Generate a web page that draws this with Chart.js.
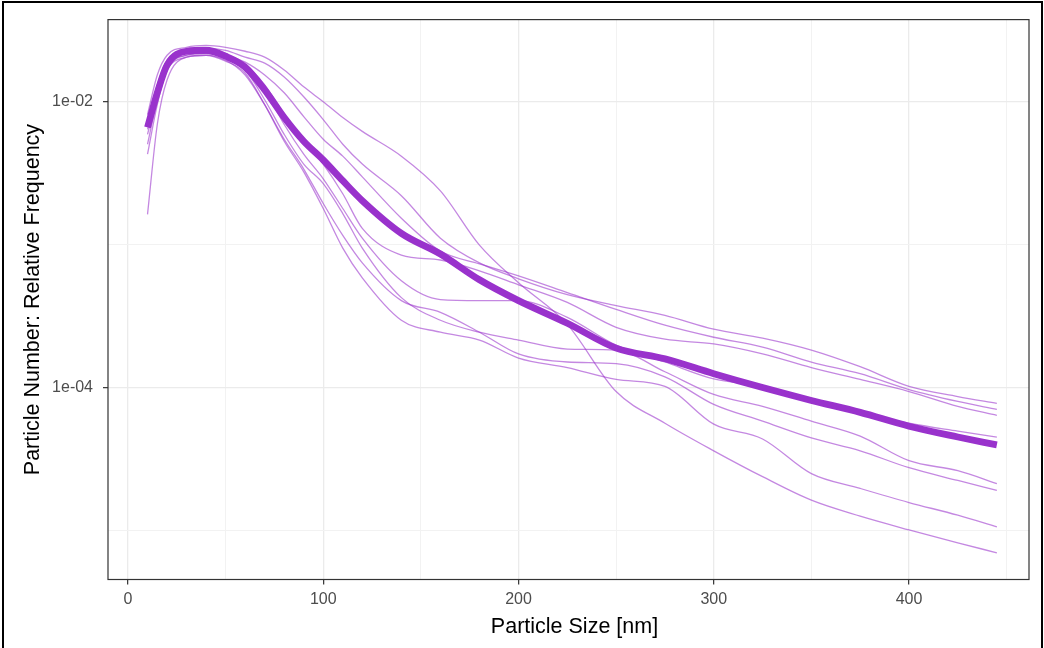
<!DOCTYPE html>
<html>
<head>
<meta charset="utf-8">
<script src="https://cdn.jsdelivr.net/npm/chart.js@4"></script>
<style>
  html, body { margin: 0; padding: 0; background: #fff; }
  #wrap { position: relative; width: 1044px; height: 648px; overflow: hidden; }
  #frame { position: absolute; left: 2px; top: 1px; width: 1037px; height: 650px; border: 2px solid #000; pointer-events: none; }
  canvas { position: absolute; left: 0; top: 0; }
</style>
</head>
<body>
<div id="wrap">
  <canvas id="chart" width="1044" height="648"></canvas>
  <div id="frame"></div>
</div>
<script>
// Particle size bins (nm)
const sizes = [10, 15, 20, 30, 40, 50, 60, 70, 80, 90, 100, 110, 120, 140, 160, 180, 200, 225, 250, 275, 300, 325, 350, 375, 400, 425, 445];

// Mean relative frequency across all runs
const meanFreq = [6.61e-3, 1.154e-2, 1.803e-2, 2.254e-2, 2.290e-2, 2.081e-2, 1.747e-2, 1.211e-2, 7.75e-3, 5.29e-3, 3.91e-3, 2.80e-3, 2.03e-3, 1.20e-3, 8.60e-4, 5.68e-4, 4.06e-4, 2.82e-4, 1.89e-4, 1.59e-4, 1.25e-4, 1.00e-4, 8.13e-5, 6.71e-5, 5.37e-5, 4.51e-5, 3.97e-5];

// Individual runs
const run01 = [8.13e-3, 1.538e-2, 2.114e-2, 2.403e-2, 2.480e-2, 2.403e-2, 2.254e-2, 2.048e-2, 1.665e-2, 1.270e-2, 1.000e-2, 7.75e-3, 6.20e-3, 4.16e-3, 2.38e-3, 9.92e-4, 5.41e-4, 2.77e-4, 9.38e-5, 5.63e-5, 3.61e-5, 2.38e-5, 1.63e-5, 1.26e-5, 1.01e-5, 8.19e-6, 6.99e-6];
const run02 = [7.16e-3, 1.311e-2, 1.953e-2, 2.290e-2, 2.364e-2, 2.290e-2, 2.048e-2, 1.862e-2, 1.489e-2, 1.083e-2, 7.50e-3, 5.04e-3, 3.66e-3, 2.20e-3, 1.11e-3, 7.45e-4, 5.77e-4, 4.47e-4, 3.75e-4, 3.20e-4, 2.56e-4, 2.22e-4, 1.83e-4, 1.40e-4, 1.02e-4, 8.66e-5, 7.75e-5];
const run03 = [6.40e-3, 1.118e-2, 1.747e-2, 2.183e-2, 2.254e-2, 2.114e-2, 1.891e-2, 1.538e-2, 1.154e-2, 7.87e-3, 5.46e-3, 4.16e-3, 2.98e-3, 1.53e-3, 9.02e-4, 7.33e-4, 6.05e-4, 4.62e-4, 3.52e-4, 2.73e-4, 2.25e-4, 1.92e-4, 1.51e-4, 1.25e-4, 9.69e-5, 8.00e-5, 7.04e-5];
const run04 = [6.93e-3, 1.211e-2, 1.862e-2, 2.218e-2, 2.290e-2, 2.114e-2, 1.803e-2, 1.311e-2, 8.13e-3, 5.46e-3, 3.66e-3, 2.27e-3, 1.30e-3, 8.46e-4, 7.81e-4, 6.56e-4, 5.24e-4, 3.94e-4, 2.64e-4, 2.18e-4, 2.02e-4, 1.72e-4, 1.38e-4, 1.14e-4, 9.38e-5, 7.39e-5, 6.40e-5];
const run05 = [4.30e-3, 9.53e-3, 1.665e-2, 2.114e-2, 2.183e-2, 2.048e-2, 1.747e-2, 1.211e-2, 6.93e-3, 4.30e-3, 2.89e-3, 1.79e-3, 1.11e-3, 5.59e-4, 4.13e-4, 4.06e-4, 4.06e-4, 3.10e-4, 1.98e-4, 1.51e-4, 1.15e-4, 1.02e-4, 8.00e-5, 6.71e-5, 5.63e-5, 4.96e-5, 4.51e-5];
const run06 = [5.91e-3, 1.083e-2, 1.747e-2, 2.114e-2, 2.183e-2, 2.016e-2, 1.665e-2, 1.032e-2, 5.91e-3, 3.66e-3, 2.67e-3, 1.65e-3, 9.46e-4, 4.26e-4, 2.96e-4, 2.44e-4, 2.15e-4, 1.86e-4, 1.83e-4, 1.29e-4, 8.95e-5, 7.39e-5, 5.82e-5, 4.58e-5, 3.08e-5, 2.62e-5, 2.13e-5];
const run07 = [1.63e-3, 6.93e-3, 1.420e-2, 2.048e-2, 2.114e-2, 1.953e-2, 1.538e-2, 9.53e-3, 5.46e-3, 3.38e-3, 1.94e-3, 1.16e-3, 7.45e-4, 4.06e-4, 3.36e-4, 2.44e-4, 1.72e-4, 1.51e-4, 1.47e-4, 1.19e-4, 7.63e-5, 5.82e-5, 4.44e-5, 3.61e-5, 2.75e-5, 2.24e-5, 1.91e-5];
const run08 = [5.04e-3, 1.032e-2, 1.665e-2, 2.048e-2, 2.114e-2, 1.922e-2, 1.588e-2, 9.53e-3, 5.29e-3, 3.23e-3, 1.79e-3, 9.46e-4, 5.86e-4, 2.96e-4, 2.44e-4, 2.15e-4, 1.61e-4, 1.38e-4, 1.14e-4, 1.02e-4, 5.55e-5, 4.37e-5, 2.50e-5, 1.97e-5, 1.57e-5, 1.28e-5, 1.06e-5];

const runs = [run01, run02, run03, run04, run05, run06, run07, run08];

// Axis ticks
const xMajorTicks = [0, 100, 200, 300, 400];
const xMinorTicks = [50, 150, 250, 350, 450];
const yMajorTicks = [1e-4, 1e-2];
const yMajorLabels = ['1e-04', '1e-02'];
const yMinorTicks = [1e-5, 1e-3];

// Axis titles
const xTitle = 'Particle Size [nm]';
const yTitle = 'Particle Number: Relative Frequency';

// Layout of the plotting panel (canvas pixels)
const PANEL = { left: 108, right: 1029, top: 13.5, bottom: 579.5 };
const CANVAS_W = 1044, CANVAS_H = 648;

const FONT = "'Liberation Sans', Arial, sans-serif";
const GRID = '#EBEBEB';
const GRID_MINOR = '#F2F2F2';
const AXIS_DARK = '#333333';

const toPoints = arr => arr.map((v, i) => ({ x: sizes[i], y: v }));

const datasets = [
  {
    label: 'mean',
    data: toPoints(meanFreq),
    borderColor: '#9932CC',
    borderWidth: 6.8,
    borderCapStyle: 'butt',
    borderJoinStyle: 'round',
    pointRadius: 0,
    cubicInterpolationMode: 'monotone',
    order: 0
  },
  ...runs.map((r, i) => ({
    label: 'run ' + (i + 1),
    data: toPoints(r),
    borderColor: 'rgba(153, 50, 204, 0.58)',
    borderWidth: 1.3,
    pointRadius: 0,
    cubicInterpolationMode: 'monotone',
    order: 1
  }))
];

// Panel border drawn over the data, plus the x-axis title
const panelDecor = {
  id: 'panelDecor',
  afterDatasetsDraw(chart) {
    const { ctx, chartArea: a } = chart;
    ctx.save();
    ctx.strokeStyle = AXIS_DARK;
    ctx.lineWidth = 1.2;
    ctx.strokeRect(a.left, a.top, a.right - a.left, a.bottom - a.top);
    ctx.restore();
  },
  afterDraw(chart) {
    const { ctx, chartArea: a } = chart;
    ctx.save();
    ctx.fillStyle = '#000';
    ctx.font = '21.5px ' + FONT;
    ctx.textAlign = 'center';
    ctx.textBaseline = 'middle';
    ctx.fillText(xTitle, (a.left + a.right) / 2 + 6, 627);
    ctx.restore();
  }
};

const isMajorX = v => xMajorTicks.includes(v);
const majorYIndex = v => yMajorTicks.findIndex(t => Math.abs(Math.log10(t) - Math.log10(v)) < 1e-6);

new Chart(document.getElementById('chart'), {
  type: 'line',
  data: { datasets },
  plugins: [panelDecor],
  options: {
    responsive: false,
    animation: false,
    devicePixelRatio: 1,
    layout: {
      padding: { left: 0, top: PANEL.top, right: CANVAS_W - PANEL.right, bottom: 0 }
    },
    plugins: { legend: { display: false }, tooltip: { enabled: false } },
    scales: {
      x: {
        type: 'linear',
        min: (PANEL.left - 128) / 1.9525,
        max: (PANEL.right - 128) / 1.9525,
        afterBuildTicks: s => { s.ticks = [...xMajorTicks, ...xMinorTicks].sort((a, b) => a - b).map(v => ({ value: v })); },
        afterFit: s => { s.height = CANVAS_H - PANEL.bottom; },
        border: { display: false },
        grid: {
          color: c => isMajorX(c.tick.value) ? GRID : GRID_MINOR,
          lineWidth: c => isMajorX(c.tick.value) ? 1.3 : 1,
          tickColor: c => isMajorX(c.tick.value) ? AXIS_DARK : 'rgba(0,0,0,0)',
          tickLength: 5,
          tickWidth: 1.2
        },
        ticks: {
          autoSkip: false,
          maxRotation: 0,
          padding: 5,
          color: '#4D4D4D',
          font: { family: FONT, size: 16 },
          callback: v => isMajorX(v) ? String(v) : ''
        },
        title: { display: false }
      },
      y: {
        type: 'logarithmic',
        min: Math.pow(10, -5.3426),
        max: Math.pow(10, -1.4256),
        afterBuildTicks: s => { s.ticks = [...yMinorTicks, ...yMajorTicks].sort((a, b) => a - b).map(v => ({ value: v })); },
        afterFit: s => { s.width = PANEL.left; },
        border: { display: false },
        grid: {
          color: c => majorYIndex(c.tick.value) >= 0 ? GRID : GRID_MINOR,
          lineWidth: c => majorYIndex(c.tick.value) >= 0 ? 1.3 : 1,
          tickColor: c => majorYIndex(c.tick.value) >= 0 ? AXIS_DARK : 'rgba(0,0,0,0)',
          tickLength: 5,
          tickWidth: 1.2
        },
        ticks: {
          autoSkip: false,
          padding: 10,
          color: '#4D4D4D',
          font: { family: FONT, size: 16 },
          callback: v => { const i = majorYIndex(v); return i >= 0 ? yMajorLabels[i] : ''; }
        },
        title: {
          display: true,
          text: yTitle,
          color: '#000',
          font: { family: FONT, size: 21.5 },
          padding: { top: 20, bottom: 0 }
        }
      }
    }
  }
});
</script>
</body>
</html>
